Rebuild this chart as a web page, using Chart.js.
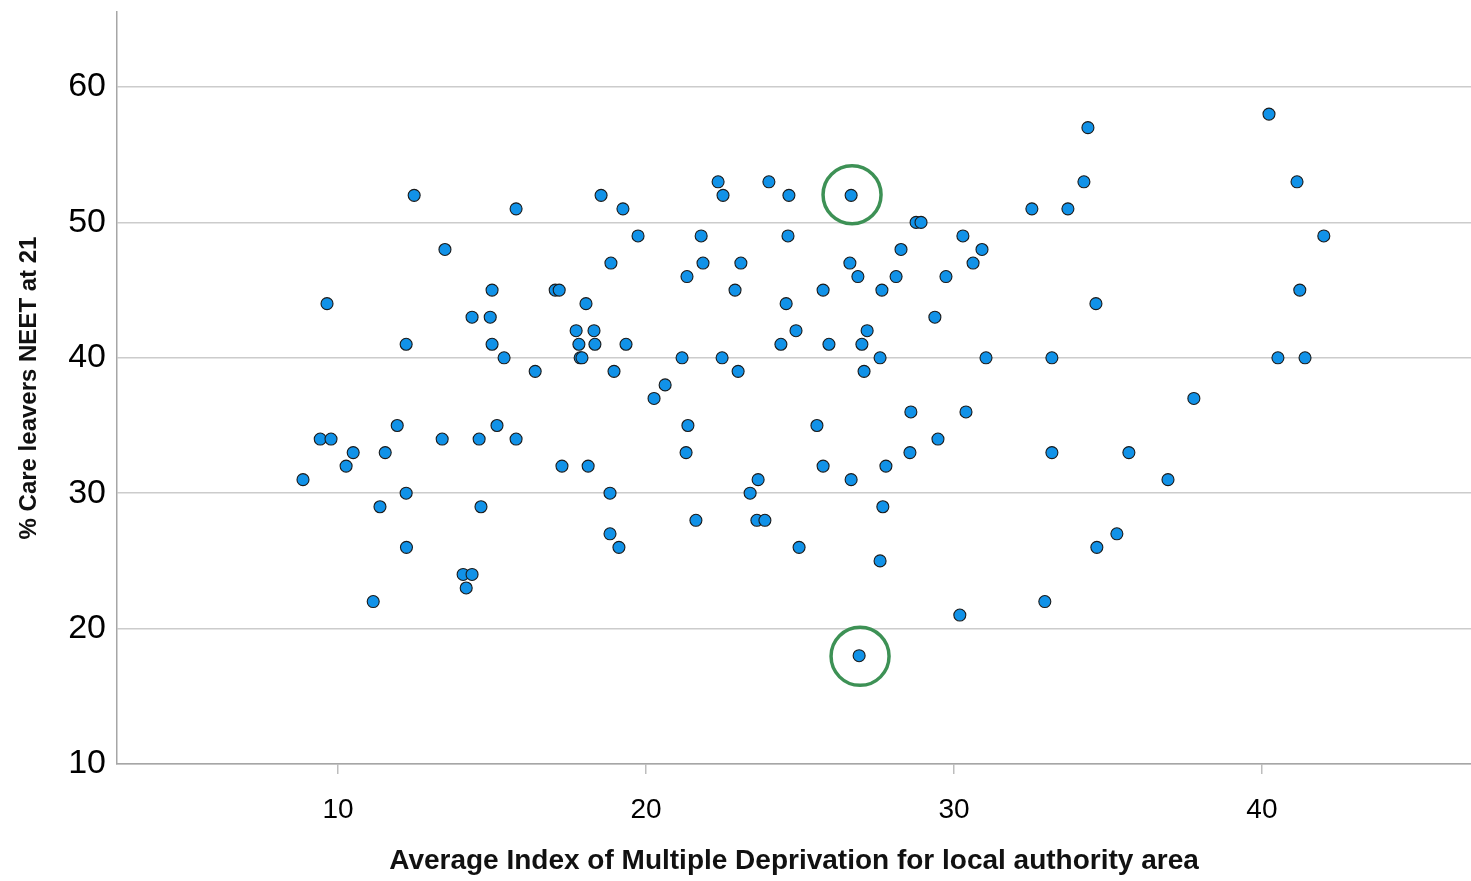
<!DOCTYPE html>
<html>
<head>
<meta charset="utf-8">
<script src="https://cdn.jsdelivr.net/npm/chart.js@4/dist/chart.umd.min.js"></script>
<style>
  html, body { margin: 0; padding: 0; background: #ffffff; }
  #wrap { width: 1471px; height: 881px; position: relative; }
</style>
</head>
<body>
<div id="wrap"><canvas id="c" width="1471" height="881"></canvas></div>
<script>
// ---- Data ----
const xValues = [
  8.86, 9.42, 9.77, 9.64, 10.26, 10.49, 11.14, 11.36, 11.53, 11.92,
  12.21, 12.21, 12.22, 12.47, 13.38, 13.47, 14.06, 14.35, 14.16, 14.35,
  14.58, 14.64, 14.94, 15.00, 15.00, 15.16, 15.39, 15.78, 15.78, 16.40,
  17.05, 17.18, 17.27, 17.73, 18.31, 17.82, 18.34, 17.86, 17.92, 19.35,
  18.05, 18.86, 18.54, 19.25, 19.74, 18.96, 18.12, 18.83, 18.83, 19.12,
  20.26, 20.62, 21.17, 21.30, 21.36, 21.33, 21.79, 21.85, 21.62, 22.34,
  22.50, 22.47, 22.89, 22.99, 23.08, 23.38, 23.64, 23.60, 23.86, 23.99,
  24.64, 24.61, 24.55, 24.38, 24.87, 24.97, 25.55, 25.75, 25.75, 25.94,
  26.66, 26.62, 26.88, 27.18, 27.01, 27.08, 26.66, 26.92, 27.60, 27.66,
  27.69, 27.60, 27.79, 28.12, 28.28, 28.60, 28.57, 28.77, 28.93, 29.38,
  29.48, 29.74, 30.29, 30.19, 30.39, 30.62, 30.91, 31.04, 32.53, 33.70,
  34.22, 34.35, 34.61, 33.18, 33.18, 32.95, 34.64, 35.29, 35.68, 36.95,
  37.79, 40.23, 41.14, 42.01, 41.23, 40.52, 41.40
];
const yValues = [
  31, 34, 34, 44, 32, 33, 22, 29, 33, 35,
  41, 30, 26, 52, 34, 48, 24, 24, 23, 43,
  34, 29, 43, 45, 41, 35, 40, 51, 34, 39,
  45, 45, 32, 42, 42, 41, 41, 40, 40, 41,
  44, 47, 52, 51, 49, 39, 32, 30, 27, 26,
  37, 38, 40, 33, 35, 46, 49, 47, 28, 53,
  52, 40, 45, 39, 47, 30, 31, 28, 28, 53,
  52, 49, 44, 41, 42, 26, 35, 32, 45, 41,
  52, 47, 46, 42, 41, 39, 31, 18, 40, 45,
  29, 25, 32, 46, 48, 36, 33, 50, 50, 43,
  34, 46, 49, 21, 36, 47, 48, 40, 51, 51,
  53, 57, 44, 40, 33, 22, 26, 27, 33, 31,
  37, 58, 53, 49, 45, 40, 40
];
// Highlighted (circled) points
const highlightX = [26.69, 26.95];
const highlightY = [52.05, 17.95];

// Axis ticks and labels
const xTicks = [10, 20, 30, 40];
const yTicks = [10, 20, 30, 40, 50, 60];
const xRange = [2.82, 46.79];
const yRange = [10, 65.54];
const xTitle = 'Average Index of Multiple Deprivation for local authority area';
const yTitle = '% Care leavers NEET at 21';

// ---- Build chart ----
const points = xValues.map((x, i) => ({ x: x, y: yValues[i] }));
const rings = highlightX.map((x, i) => ({ x: x, y: highlightY[i] }));

new Chart(document.getElementById('c'), {
  type: 'scatter',
  data: {
    datasets: [
      {
        data: points,
        backgroundColor: '#1192e8',
        borderColor: '#1a1a1a',
        borderWidth: 1.1,
        pointRadius: 6,
        pointHoverRadius: 6,
        order: 2
      },
      {
        data: rings,
        backgroundColor: 'rgba(0,0,0,0)',
        borderColor: '#3d9155',
        borderWidth: 3.5,
        pointRadius: 29,
        pointHoverRadius: 29,
        order: 1
      }
    ]
  },
  options: {
    responsive: false,
    animation: false,
    events: [],
    layout: { autoPadding: false, padding: { left: 0, right: 0, top: 12, bottom: 0 } },
    plugins: { legend: { display: false }, tooltip: { enabled: false } },
    scales: {
      x: {
        type: 'linear',
        min: xRange[0],
        max: xRange[1],
        afterBuildTicks: s => { s.ticks = xTicks.map(v => ({ value: v })); },
        afterFit: s => { s.height = 117; s.paddingLeft = 0; s.paddingRight = 0; },
        ticks: {
          includeBounds: false,
          color: '#000',
          padding: 19,
          font: { family: 'Liberation Sans, Arial, sans-serif', size: 28 }
        },
        grid: {
          drawOnChartArea: false,
          drawTicks: true,
          tickLength: 10,
          tickColor: '#bdbdbd',
          lineWidth: 1.5
        },
        border: { display: true, color: '#a6a6a6', width: 1.5 },
        title: {
          display: true,
          text: xTitle,
          color: '#111',
          padding: { top: 0, bottom: 3 },
          font: { family: 'Liberation Sans, Arial, sans-serif', size: 28, weight: 'bold' }
        }
      },
      y: {
        type: 'linear',
        min: yRange[0],
        max: yRange[1],
        afterBuildTicks: s => { s.ticks = yTicks.map(v => ({ value: v })); },
        afterFit: s => { s.width = 117; s.paddingTop = 0; s.paddingBottom = 0; },
        ticks: {
          includeBounds: false,
          color: '#000',
          padding: 11,
          font: { family: 'Liberation Sans, Arial, sans-serif', size: 34 }
        },
        grid: {
          drawOnChartArea: true,
          drawTicks: false,
          color: '#cccccc',
          lineWidth: 1.6
        },
        border: { display: true, color: '#a6a6a6', width: 1.5 },
        title: {
          display: true,
          text: yTitle,
          color: '#111',
          padding: { top: 15, bottom: 0 },
          font: { family: 'Liberation Sans, Arial, sans-serif', size: 24, weight: 'bold' }
        }
      }
    }
  }
});
</script>
</body>
</html>
